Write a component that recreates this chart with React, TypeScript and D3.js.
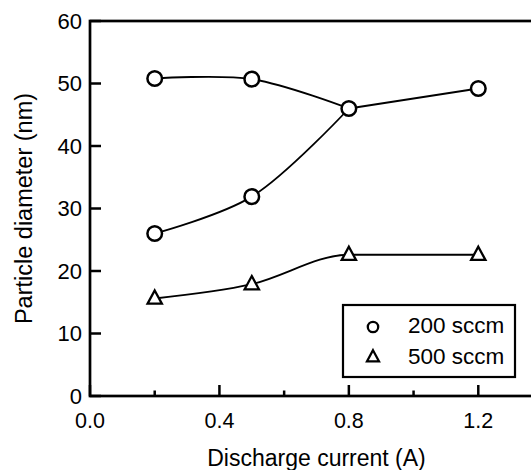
import * as d3 from "d3";

// discharge current (A)
const currents = [0.2, 0.5, 0.8, 1.2];
// 200 sccm: two branches that meet at 0.8 A, then one segment to 1.2 A
const circleUpper = [50.8, 50.7, 46.0];
const circleLower = [26.0, 31.9, 46.0];
const circleTail = [46.0, 49.2];
// 500 sccm
const triangleVals = [15.6, 17.9, 22.6, 22.6];

const xMajor = [0.0, 0.4, 0.8, 1.2];
const xMinor = [0.2, 0.6, 1.0];
const yTicks = [0, 10, 20, 30, 40, 50, 60];
const legendLabels = ["200 sccm", "500 sccm"];

const W = 531;
const H = 470;
const font = "'Liberation Sans', Arial, sans-serif";

export default function App() {
  const x = d3.scaleLinear().domain([0, 1.4]).range([90, 543]);
  const y = d3.scaleLinear().domain([0, 60]).range([396, 21]);

  const line = d3
    .line<[number, number]>()
    .x((d) => x(d[0]))
    .y((d) => y(d[1]))
    .curve(d3.curveCatmullRom.alpha(0.5));

  const triLine = d3
    .line<[number, number]>()
    .x((d) => x(d[0]))
    .y((d) => y(d[1]))
    .curve(d3.curveMonotoneX);

  const upper: [number, number][] = circleUpper.map((v, i) => [currents[i], v]);
  const lower: [number, number][] = circleLower.map((v, i) => [currents[i], v]);
  const tail: [number, number][] = circleTail.map((v, i) => [currents[i + 2], v]);
  const tri: [number, number][] = triangleVals.map((v, i) => [currents[i], v]);

  const circlePts = [...upper, ...lower.slice(0, 2), tail[1]];

  const triPath = (cx: number, cy: number, s: number) =>
    `M${cx},${cy - s * 0.62}L${cx + s * 0.55},${cy + s * 0.4}L${cx - s * 0.55},${cy + s * 0.4}Z`;

  return (
    <svg
      width={W}
      height={H}
      style={{ position: "absolute", left: 0, top: 0, background: "#fff" }}
      fontFamily={font}
    >
      {/* frame */}
      <rect
        x={x(0)}
        y={y(60)}
        width={x(1.4) - x(0)}
        height={y(0) - y(60)}
        fill="none"
        stroke="#000"
        strokeWidth={2.7}
      />
      {xMajor.map((t) => (
        <g key={"xM" + t}>
          <line x1={x(t)} x2={x(t)} y1={y(0)} y2={y(0) - 11} stroke="#000" strokeWidth={2.5} />
          <text x={x(t)} y={428} textAnchor="middle" fontSize={21.5}>
            {t.toFixed(1)}
          </text>
        </g>
      ))}
      {xMinor.map((t) => (
        <line key={"xm" + t} x1={x(t)} x2={x(t)} y1={y(0)} y2={y(0) - 5.5} stroke="#000" strokeWidth={2.5} />
      ))}
      {yTicks.map((t) => (
        <g key={"y" + t}>
          <line x1={x(0)} x2={x(0) + 11} y1={y(t)} y2={y(t)} stroke="#000" strokeWidth={2.5} />
          <text x={82} y={y(t) + 7.5} textAnchor="end" fontSize={22}>
            {t}
          </text>
        </g>
      ))}
      <text x={x(0.7)} y={466} textAnchor="middle" fontSize={23}>
        Discharge current (A)
      </text>
      <text
        transform={`translate(32, ${(y(0) + y(60)) / 2}) rotate(-90)`}
        textAnchor="middle"
        fontSize={23.5}
      >
        Particle diameter (nm)
      </text>

      {/* curves */}
      <path d={line(upper)!} fill="none" stroke="#000" strokeWidth={1.8} />
      <path d={line(lower)!} fill="none" stroke="#000" strokeWidth={1.8} />
      <path d={line(tail)!} fill="none" stroke="#000" strokeWidth={1.8} />
      <path d={triLine(tri)!} fill="none" stroke="#000" strokeWidth={1.8} />

      {circlePts.map((d, i) => (
        <circle key={"c" + i} cx={x(d[0])} cy={y(d[1])} r={7.3} fill="#fff" stroke="#000" strokeWidth={2.5} />
      ))}
      {tri.map((d, i) => (
        <path key={"t" + i} d={triPath(x(d[0]), y(d[1]), 13)} fill="#fff" stroke="#000" strokeWidth={2.3} />
      ))}

      {/* legend */}
      <rect x={343} y={305} width={172} height={72} fill="#fff" stroke="#000" strokeWidth={2.2} />
      <circle cx={373} cy={327} r={5.2} fill="#fff" stroke="#000" strokeWidth={2.3} />
      <path d={triPath(373, 357, 11)} fill="#fff" stroke="#000" strokeWidth={2.2} />
      <text x={408} y={333} fontSize={22.5}>
        {legendLabels[0]}
      </text>
      <text x={408} y={364} fontSize={22.5}>
        {legendLabels[1]}
      </text>
    </svg>
  );
}
